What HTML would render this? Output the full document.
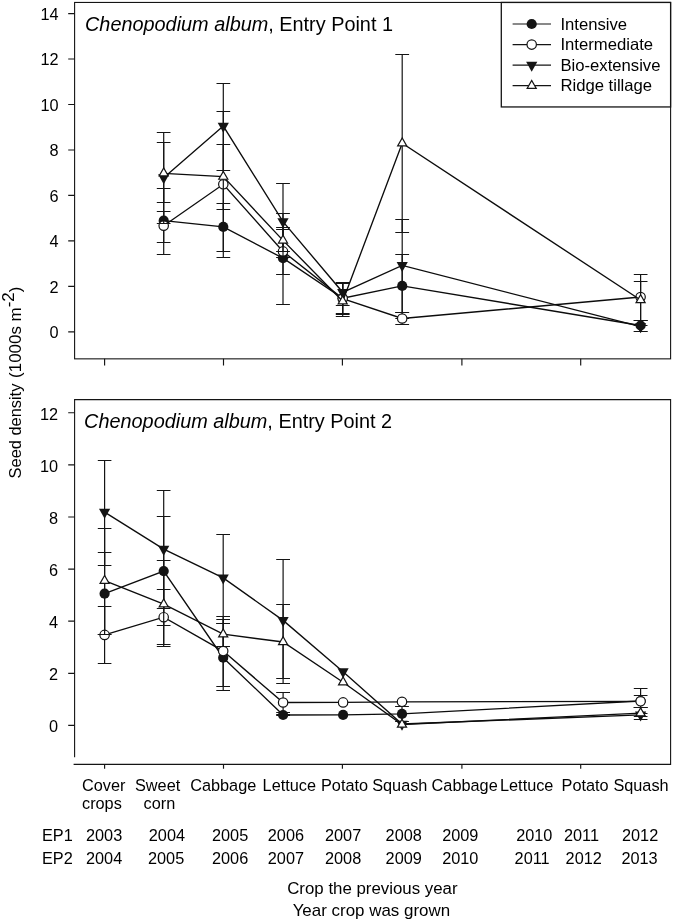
<!DOCTYPE html>
<html lang="en"><head><meta charset="utf-8"><title>Chenopodium album seed density</title>
<style>
html,body{margin:0;padding:0;background:#fff}
body{width:673px;height:921px;overflow:hidden}
svg{display:block;transform:translateZ(0);will-change:transform}
text{font-family:"Liberation Sans",Arial,sans-serif;fill:#000}
.tk,.tk text{font-size:16.3px}
.ti{font-size:19.87px}
.ax{font-size:16.95px}
.lg{font-size:16.68px}
</style></head><body>
<svg width="673" height="921" viewBox="0 0 673 921">
<rect width="673" height="921" fill="#fff"/>
<rect x="74.6" y="2.45" width="596.00" height="356.40" fill="none" stroke="#141414" stroke-width="1.1"/>
<path d="M74.6 757.3V399.65H670.6V764.4H73.6" fill="none" stroke="#141414" stroke-width="1.1"/>
<path d="M68.2 331.86H74.6M68.2 286.39H74.6M68.2 240.92H74.6M68.2 195.44H74.6M68.2 149.97H74.6M68.2 104.50H74.6M68.2 59.03H74.6M68.2 13.56H74.6M68.2 725.43H74.6M68.2 673.31H74.6M68.2 621.19H74.6M68.2 569.07H74.6M68.2 516.95H74.6M68.2 464.83H74.6M68.2 412.71H74.6M104.6 358.85V365.5M104.6 764.4V768.7M223.5 358.85V365.5M223.5 764.4V768.7M342.4 358.85V365.5M342.4 764.4V768.7M461.9 358.85V365.5M461.9 764.4V768.7M580.7 358.85V365.5M580.7 764.4V768.7" fill="none" stroke="#141414" stroke-width="1.15"/>
<g class="tk"><text x="58.5" y="338.2" text-anchor="end">0</text><text x="58.5" y="292.7" text-anchor="end">2</text><text x="58.5" y="247.3" text-anchor="end">4</text><text x="58.5" y="201.8" text-anchor="end">6</text><text x="58.5" y="156.3" text-anchor="end">8</text><text x="58.5" y="110.8" text-anchor="end">10</text><text x="58.5" y="65.4" text-anchor="end">12</text><text x="58.5" y="19.9" text-anchor="end">14</text><text x="58.0" y="732.3" text-anchor="end">0</text><text x="58.0" y="680.2" text-anchor="end">2</text><text x="58.0" y="628.1" text-anchor="end">4</text><text x="58.0" y="576.0" text-anchor="end">6</text><text x="58.0" y="523.8" text-anchor="end">8</text><text x="58.0" y="471.7" text-anchor="end">10</text><text x="58.0" y="419.6" text-anchor="end">12</text></g>
<g>
<path d="M163.7 220.7 L223.3 226.9 L283.0 258.2 L342.7 298.2 L402.2 285.9 L640.6 325.5" fill="none" stroke="#0c0c0c" stroke-width="1.35"/>
<path d="M163.7 188.5V254.5M156.8 188.5H170.5M156.8 254.5H170.5M223.3 203.5V251.5M216.5 203.5H230.2M216.5 251.5H230.2M283.0 213.5V304.5M276.1 213.5H289.9M276.1 304.5H289.9M342.7 282.5V313.5M335.8 282.5H349.6M335.8 313.5H349.6M402.2 254.5V318.5M395.3 254.5H409.1M395.3 318.5H409.1M640.6 320.5V331.5M633.8 320.5H647.5M633.8 331.5H647.5" fill="none" stroke="#141414" stroke-width="1.2"/>
<circle cx="163.7" cy="220.7" r="5.1" fill="#141414"/>
<circle cx="223.3" cy="226.9" r="5.1" fill="#141414"/>
<circle cx="283.0" cy="258.2" r="5.1" fill="#141414"/>
<circle cx="342.7" cy="298.2" r="5.1" fill="#141414"/>
<circle cx="402.2" cy="285.9" r="5.1" fill="#141414"/>
<circle cx="640.6" cy="325.5" r="5.1" fill="#141414"/>
<path d="M163.7 225.7 L223.3 184.3 L283.0 251.4 L342.7 298.6 L402.2 318.5 L640.6 297.0" fill="none" stroke="#0c0c0c" stroke-width="1.35"/>
<path d="M163.7 211.5V242.5M156.8 211.5H170.5M156.8 242.5H170.5M223.3 111.5V257.5M216.5 111.5H230.2M216.5 257.5H230.2M283.0 227.5V274.5M276.1 227.5H289.9M276.1 274.5H289.9M342.7 283.5V316.5M335.8 283.5H349.6M335.8 316.5H349.6M402.2 312.5V324.5M395.3 312.5H409.1M395.3 324.5H409.1M640.6 274.5V320.5M633.8 274.5H647.5M633.8 320.5H647.5" fill="none" stroke="#141414" stroke-width="1.2"/>
<circle cx="163.7" cy="225.7" r="4.7" fill="#fff" stroke="#141414" stroke-width="1.2"/>
<circle cx="223.3" cy="184.3" r="4.7" fill="#fff" stroke="#141414" stroke-width="1.2"/>
<circle cx="283.0" cy="251.4" r="4.7" fill="#fff" stroke="#141414" stroke-width="1.2"/>
<circle cx="342.7" cy="298.6" r="4.7" fill="#fff" stroke="#141414" stroke-width="1.2"/>
<circle cx="402.2" cy="318.5" r="4.7" fill="#fff" stroke="#141414" stroke-width="1.2"/>
<circle cx="640.6" cy="297.0" r="4.7" fill="#fff" stroke="#141414" stroke-width="1.2"/>
<path d="M163.7 177.7 L223.3 126.1 L283.0 221.6 L342.7 292.3 L402.2 265.4 L640.6 326.7" fill="none" stroke="#0c0c0c" stroke-width="1.35"/>
<path d="M163.7 132.5V223.5M156.8 132.5H170.5M156.8 223.5H170.5M223.3 83.5V170.5M216.5 83.5H230.2M216.5 170.5H230.2M283.0 183.5V257.5M276.1 183.5H289.9M276.1 257.5H289.9M342.7 282.5V305.5M335.8 282.5H349.6M335.8 305.5H349.6M402.2 219.5V312.5M395.3 219.5H409.1M395.3 312.5H409.1M640.6 325.5V331.5M633.8 325.5H647.5M633.8 331.5H647.5" fill="none" stroke="#141414" stroke-width="1.2"/>
<polygon points="158.10,174.37 169.30,174.37 163.70,184.37" fill="#141414"/>
<polygon points="217.70,122.77 228.90,122.77 223.30,132.77" fill="#141414"/>
<polygon points="277.40,218.27 288.60,218.27 283.00,228.27" fill="#141414"/>
<polygon points="337.10,288.97 348.30,288.97 342.70,298.97" fill="#141414"/>
<polygon points="396.60,262.07 407.80,262.07 402.20,272.07" fill="#141414"/>
<polygon points="635.00,323.37 646.20,323.37 640.60,333.37" fill="#141414"/>
<path d="M163.7 173.3 L223.3 176.6 L283.0 240.4 L342.7 301.3 L402.2 143.3 L640.6 300.0" fill="none" stroke="#0c0c0c" stroke-width="1.35"/>
<path d="M163.7 142.5V202.5M156.8 142.5H170.5M156.8 202.5H170.5M223.3 144.5V209.5M216.5 144.5H230.2M216.5 209.5H230.2M283.0 229.5V251.5M276.1 229.5H289.9M276.1 251.5H289.9M342.7 283.5V314.5M335.8 283.5H349.6M335.8 314.5H349.6M402.2 54.5V232.5M395.3 54.5H409.1M395.3 232.5H409.1M640.6 281.5V320.5M633.8 281.5H647.5M633.8 320.5H647.5" fill="none" stroke="#141414" stroke-width="1.2"/>
<polygon points="159.15,175.93 168.25,175.93 163.70,168.03" fill="#fff" stroke="#141414" stroke-width="1.2" stroke-linejoin="miter"/>
<polygon points="218.75,179.23 227.85,179.23 223.30,171.33" fill="#fff" stroke="#141414" stroke-width="1.2" stroke-linejoin="miter"/>
<polygon points="278.45,243.03 287.55,243.03 283.00,235.13" fill="#fff" stroke="#141414" stroke-width="1.2" stroke-linejoin="miter"/>
<polygon points="338.15,303.93 347.25,303.93 342.70,296.03" fill="#fff" stroke="#141414" stroke-width="1.2" stroke-linejoin="miter"/>
<polygon points="397.65,145.93 406.75,145.93 402.20,138.03" fill="#fff" stroke="#141414" stroke-width="1.2" stroke-linejoin="miter"/>
<polygon points="636.05,302.63 645.15,302.63 640.60,294.73" fill="#fff" stroke="#141414" stroke-width="1.2" stroke-linejoin="miter"/>
</g><g>
<path d="M104.6 593.7 L163.7 571.1 L223.2 657.7 L283.1 715.0 L343.1 714.9 L402.0 713.9 L640.6 701.0" fill="none" stroke="#0c0c0c" stroke-width="1.35"/>
<path d="M104.6 552.5V634.5M97.8 552.5H111.4M97.8 634.5H111.4M163.7 516.5V625.5M156.8 516.5H170.5M156.8 625.5H170.5M223.2 623.5V690.5M216.3 623.5H230.0M216.3 690.5H230.0M283.1 714.5V715.5M276.2 714.5H290.0M276.2 715.5H290.0M402.0 706.5V721.5M395.1 706.5H408.9M395.1 721.5H408.9M640.6 688.5V713.5M633.8 688.5H647.5M633.8 713.5H647.5" fill="none" stroke="#141414" stroke-width="1.2"/>
<circle cx="104.6" cy="593.7" r="5.1" fill="#141414"/>
<circle cx="163.7" cy="571.1" r="5.1" fill="#141414"/>
<circle cx="223.2" cy="657.7" r="5.1" fill="#141414"/>
<circle cx="283.1" cy="715.0" r="5.1" fill="#141414"/>
<circle cx="343.1" cy="714.9" r="5.1" fill="#141414"/>
<circle cx="402.0" cy="713.9" r="5.1" fill="#141414"/>
<circle cx="640.6" cy="701.0" r="5.1" fill="#141414"/>
<path d="M104.6 634.9 L163.7 617.2 L223.2 651.1 L283.1 702.5 L343.1 702.4 L402.0 701.8 L640.6 701.3" fill="none" stroke="#0c0c0c" stroke-width="1.35"/>
<path d="M104.6 606.5V663.5M97.8 606.5H111.4M97.8 663.5H111.4M163.7 589.5V646.5M156.8 589.5H170.5M156.8 646.5H170.5M223.2 616.5V686.5M216.3 616.5H230.0M216.3 686.5H230.0M283.1 692.5V712.5M276.2 692.5H290.0M276.2 712.5H290.0M640.6 695.5V707.5M633.8 695.5H647.5M633.8 707.5H647.5" fill="none" stroke="#141414" stroke-width="1.2"/>
<circle cx="104.6" cy="634.9" r="4.7" fill="#fff" stroke="#141414" stroke-width="1.2"/>
<circle cx="163.7" cy="617.2" r="4.7" fill="#fff" stroke="#141414" stroke-width="1.2"/>
<circle cx="223.2" cy="651.1" r="4.7" fill="#fff" stroke="#141414" stroke-width="1.2"/>
<circle cx="283.1" cy="702.5" r="4.7" fill="#fff" stroke="#141414" stroke-width="1.2"/>
<circle cx="343.1" cy="702.4" r="4.7" fill="#fff" stroke="#141414" stroke-width="1.2"/>
<circle cx="402.0" cy="701.8" r="4.7" fill="#fff" stroke="#141414" stroke-width="1.2"/>
<circle cx="640.6" cy="701.3" r="4.7" fill="#fff" stroke="#141414" stroke-width="1.2"/>
<path d="M104.6 512.1 L163.7 549.1 L223.2 577.9 L283.1 620.4 L343.1 671.7 L402.0 724.0 L640.6 714.9" fill="none" stroke="#0c0c0c" stroke-width="1.35"/>
<path d="M104.6 460.5V565.5M97.8 460.5H111.4M97.8 565.5H111.4M163.7 490.5V608.5M156.8 490.5H170.5M156.8 608.5H170.5M223.2 534.5V623.5M216.3 534.5H230.0M216.3 623.5H230.0M283.1 559.5V683.5M276.2 559.5H290.0M276.2 683.5H290.0M640.6 707.5V719.5M633.8 707.5H647.5M633.8 719.5H647.5" fill="none" stroke="#141414" stroke-width="1.2"/>
<polygon points="99.00,508.77 110.20,508.77 104.60,518.77" fill="#141414"/>
<polygon points="158.10,545.77 169.30,545.77 163.70,555.77" fill="#141414"/>
<polygon points="217.60,574.57 228.80,574.57 223.20,584.57" fill="#141414"/>
<polygon points="277.50,617.07 288.70,617.07 283.10,627.07" fill="#141414"/>
<polygon points="337.50,668.37 348.70,668.37 343.10,678.37" fill="#141414"/>
<polygon points="396.40,720.67 407.60,720.67 402.00,730.67" fill="#141414"/>
<polygon points="635.00,711.57 646.20,711.57 640.60,721.57" fill="#141414"/>
<path d="M104.6 580.7 L163.7 604.2 L223.2 634.2 L283.1 642.0 L343.1 682.3 L402.0 724.5 L640.6 713.1" fill="none" stroke="#0c0c0c" stroke-width="1.35"/>
<path d="M104.6 528.5V634.5M97.8 528.5H111.4M97.8 634.5H111.4M163.7 560.5V644.5M156.8 560.5H170.5M156.8 644.5H170.5M223.2 619.5V646.5M216.3 619.5H230.0M216.3 646.5H230.0M283.1 604.5V678.5M276.2 604.5H290.0M276.2 678.5H290.0M640.6 707.5V716.5M633.8 707.5H647.5M633.8 716.5H647.5" fill="none" stroke="#141414" stroke-width="1.2"/>
<polygon points="100.05,583.33 109.15,583.33 104.60,575.43" fill="#fff" stroke="#141414" stroke-width="1.2" stroke-linejoin="miter"/>
<polygon points="159.15,606.83 168.25,606.83 163.70,598.93" fill="#fff" stroke="#141414" stroke-width="1.2" stroke-linejoin="miter"/>
<polygon points="218.65,636.83 227.75,636.83 223.20,628.93" fill="#fff" stroke="#141414" stroke-width="1.2" stroke-linejoin="miter"/>
<polygon points="278.55,644.63 287.65,644.63 283.10,636.73" fill="#fff" stroke="#141414" stroke-width="1.2" stroke-linejoin="miter"/>
<polygon points="338.55,684.93 347.65,684.93 343.10,677.03" fill="#fff" stroke="#141414" stroke-width="1.2" stroke-linejoin="miter"/>
<polygon points="397.45,727.13 406.55,727.13 402.00,719.23" fill="#fff" stroke="#141414" stroke-width="1.2" stroke-linejoin="miter"/>
<polygon points="636.05,715.73 645.15,715.73 640.60,707.83" fill="#fff" stroke="#141414" stroke-width="1.2" stroke-linejoin="miter"/>
</g>
<rect x="501.3" y="2.45" width="169.3" height="104.5" fill="#fff" stroke="#141414" stroke-width="1.3"/>
<path d="M512.6 24.0H551" stroke="#141414" stroke-width="1.2"/>
<circle cx="531.7" cy="24.0" r="5.1" fill="#141414"/>
<text class="lg" x="560.4" y="29.6">Intensive</text>
<path d="M512.6 44.6H551" stroke="#141414" stroke-width="1.2"/>
<circle cx="531.7" cy="44.6" r="4.7" fill="#fff" stroke="#141414" stroke-width="1.2"/>
<text class="lg" x="560.4" y="50.2">Intermediate</text>
<path d="M512.6 65.1H551" stroke="#141414" stroke-width="1.2"/>
<polygon points="526.10,61.77 537.30,61.77 531.70,71.77" fill="#141414"/>
<text class="lg" x="560.4" y="70.7">Bio-extensive</text>
<path d="M512.6 85.7H551" stroke="#141414" stroke-width="1.2"/>
<polygon points="527.15,88.33 536.25,88.33 531.70,80.43" fill="#fff" stroke="#141414" stroke-width="1.2" stroke-linejoin="miter"/>
<text class="lg" x="560.4" y="91.3">Ridge tillage</text>
<text class="ti" x="85.0" y="31.1"><tspan font-style="italic">Chenopodium album</tspan>, Entry Point 1</text>
<text class="ti" x="84.1" y="428.0"><tspan font-style="italic">Chenopodium album</tspan>, Entry Point 2</text>
<text class="ax" transform="translate(21.4 478.4) rotate(-90)"><tspan font-size="16.4">Seed density</tspan> <tspan x="100.5">(1000s m</tspan><tspan dy="-7">-2</tspan><tspan dy="7">)</tspan></text>
<text class="tk" x="82.0" y="790.8">Cover</text>
<text class="tk" x="135.0" y="790.8">Sweet</text>
<text class="tk" x="190.2" y="790.8">Cabbage</text>
<text class="tk" x="262.6" y="790.8">Lettuce</text>
<text class="tk" x="321.0" y="790.8">Potato</text>
<text class="tk" x="372.2" y="790.8">Squash</text>
<text class="tk" x="431.6" y="790.8">Cabbage</text>
<text class="tk" x="500.0" y="790.8">Lettuce</text>
<text class="tk" x="561.6" y="790.8">Potato</text>
<text class="tk" x="613.4" y="790.8">Squash</text>
<text class="tk" x="82.0" y="808.6">crops</text>
<text class="tk" x="143.6" y="808.6">corn</text>
<text class="tk" x="42.0" y="840.6">EP1</text>
<text class="tk" x="42.0" y="864.4">EP2</text>
<text class="tk" x="86.0" y="840.6">2003</text>
<text class="tk" x="148.8" y="840.6">2004</text>
<text class="tk" x="212.0" y="840.6">2005</text>
<text class="tk" x="267.8" y="840.6">2006</text>
<text class="tk" x="325.0" y="840.6">2007</text>
<text class="tk" x="385.6" y="840.6">2008</text>
<text class="tk" x="442.2" y="840.6">2009</text>
<text class="tk" x="516.2" y="840.6">2010</text>
<text class="tk" x="564.0" y="840.6">2011</text>
<text class="tk" x="622.0" y="840.6">2012</text>
<text class="tk" x="86.0" y="864.4">2004</text>
<text class="tk" x="148.0" y="864.4">2005</text>
<text class="tk" x="212.0" y="864.4">2006</text>
<text class="tk" x="267.8" y="864.4">2007</text>
<text class="tk" x="325.0" y="864.4">2008</text>
<text class="tk" x="385.6" y="864.4">2009</text>
<text class="tk" x="442.2" y="864.4">2010</text>
<text class="tk" x="514.6" y="864.4">2011</text>
<text class="tk" x="565.6" y="864.4">2012</text>
<text class="tk" x="621.4" y="864.4">2013</text>
<text class="ax" x="372.4" y="894.4" text-anchor="middle" style="font-size:16.85px">Crop the previous year</text>
<text class="ax" x="371.4" y="916.4" text-anchor="middle">Year crop was grown</text>
</svg>
</body></html>
